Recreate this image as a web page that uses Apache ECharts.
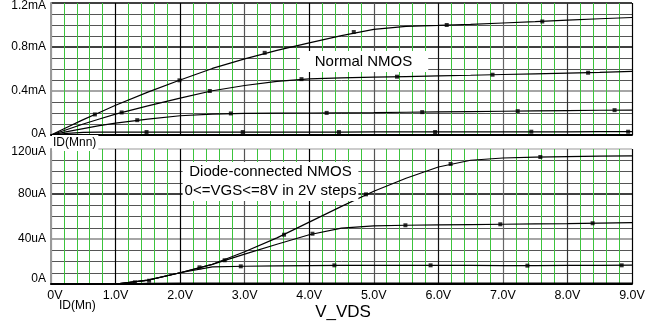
<!DOCTYPE html>
<html><head><meta charset="utf-8">
<script src="https://cdn.jsdelivr.net/npm/echarts@6/dist/echarts.min.js"></script>
<style>html,body{margin:0;padding:0;background:#fff}#c{width:661px;height:328px}</style>
</head><body><div id="c"></div>
<script>
// ---- data ----
const vds = [0,0.25,0.5,0.75,1,1.5,2,2.5,3,3.5,4,4.5,5,5.5,6,6.5,7,7.5,8,8.5,9];
// Normal NMOS, ID in mA, VGS = 8,6,4,2 V
const topVgs8 = [0,0.07,0.14,0.205,0.27,0.39,0.50,0.605,0.692,0.77,0.838,0.903,0.96,0.988,0.996,1.006,1.018,1.03,1.045,1.057,1.068];
const topVgs6 = [0,0.05,0.1,0.145,0.19,0.265,0.335,0.402,0.45,0.488,0.51,0.52,0.526,0.531,0.537,0.543,0.55,0.556,0.562,0.569,0.578];
const topVgs4 = [0,0.03,0.058,0.085,0.108,0.145,0.175,0.19,0.197,0.199,0.2,0.202,0.204,0.207,0.21,0.213,0.216,0.219,0.222,0.225,0.227];
const topVgs2 = [0,0.015,0.024,0.027,0.027,0.027,0.027,0.027,0.027,0.027,0.027,0.027,0.028,0.028,0.028,0.028,0.029,0.029,0.029,0.03,0.03];
// Diode-connected NMOS, ID in uA
const botVgs8 = [0,0,0,0,0,3.5,10,17.5,28.7,41,55,69,82.5,94,104,110,112,112.7,113.2,113.6,113.9];
const botVgs6 = [0,0,0,0,0,3.5,10,17.5,26.5,35.3,43.8,49.6,51.6,52.2,52.5,52.8,53.1,53.4,53.7,54.1,54.5];
const botVgs4 = [0,0,0,0,0,3.3,10,15.3,15.8,16.1,16.3,16.5,16.6,16.6,16.6,16.5,16.4,16.4,16.5,16.6,16.7];
const botVgs2 = [0,0,0,0,0,0.5,0.8,0.8,0.8,0.8,0.8,0.8,0.8,0.8,0.8,0.8,0.8,0.8,0.8,0.8,0.8];
// trace markers [V, I]
const topMk8 = [[0.68,0.187],[1.99,0.497],[3.31,0.747],[4.69,0.936],[6.13,1.0],[7.61,1.032]];
const topMk6 = [[1.094,0.205],[2.46,0.40],[3.88,0.508],[5.36,0.53],[6.84,0.548],[8.32,0.566]];
const topMk4 = [[1.336,0.135],[2.786,0.196],[4.27,0.201],[5.75,0.208],[7.23,0.217],[8.73,0.226]];
const topMk2 = [[1.48,0.027],[2.97,0.027],[4.46,0.027],[5.95,0.027],[7.44,0.03],[8.94,0.03]];
const botMk8 = [[2.3,14.8],[3.61,43.8],[4.88,79.7],[6.19,106.7],[7.58,112.9]];
const botMk6 = [[1.3,1.5],[2.69,21.1],[4.05,44.7],[5.49,52.2],[6.96,53.1],[8.39,54.0]];
const botMk4 = [[1.52,2.9],[2.94,15.7],[4.39,16.6],[5.88,16.6],[7.38,16.3],[8.84,16.6]];
// tick labels
const xTickLabels = ['0V','1.0V','2.0V','3.0V','4.0V','5.0V','6.0V','7.0V','8.0V','9.0V'];
const topYLabels = ['0A','0.4mA','0.8mA','1.2mA'];
const botYLabels = ['0A','40uA','80uA','120uA'];

// ---- chart ----
const FONT = 'Liberation Sans, Arial, sans-serif';
const GREEN = '#3cc43c';
function pts(ys){ return vds.map((v,i)=>[v, ys[i]]); }
function lineSeries(ys, xi, yi){
  return {type:'line', xAxisIndex:xi, yAxisIndex:yi, data:pts(ys), showSymbol:false, smooth:false,
    lineStyle:{color:'#000', width:1.2}, silent:true, animation:false, z:5};
}
function markSeries(d, xi, yi){
  return {type:'scatter', xAxisIndex:xi, yAxisIndex:yi, data:d, symbol:'rect', symbolSize:4,
    itemStyle:{color:'#000'}, silent:true, animation:false, z:6};
}
function xAxis(gi, showLabels){
  return {type:'value', gridIndex:gi, min:0, max:9, interval:1,
    axisLine:{show:true, onZero:false, lineStyle:{color:'#000', width:2}},
    axisTick:{show:false},
    axisLabel:{show:showLabels, fontFamily:FONT, fontSize:12.5, color:'#000', margin:5,
      formatter:(v)=>{const i=Math.round(v); return i===0?'{z|'+xTickLabels[0]+'}':xTickLabels[i];},
      rich:{z:{fontFamily:FONT, fontSize:12.5, color:'#000', padding:[0,0,0,8]}}},
    splitLine:{show:true, lineStyle:{color:['#888','#000','#000','#555','#000','#555','#111','#666','#333','#000'], width:1.2}},
    minorTick:{show:false, splitNumber:5},
    minorSplitLine:{show:true, lineStyle:{color:GREEN, width:1}}
  };
}
function yAxis(gi, max, interval, labels, splitColors, topPad, zeroPad){
  return {type:'value', gridIndex:gi, min:0, max:max, interval:interval,
    axisLine:{show:true, lineStyle:{color:'#999', width:2}},
    axisTick:{show:false},
    axisLabel:{fontFamily:FONT, fontSize:12, color:'#000', margin:5,
      formatter:(v)=>{const i=Math.round(v/interval); const s=labels[i];
        if(i===labels.length-1) return '{t|'+s+'}';
        if(i===0) return '{b|'+s+'}';
        return s;},
      rich:{t:{fontFamily:FONT,fontSize:12,color:'#000',padding:[topPad,0,0,0]},
            b:{fontFamily:FONT,fontSize:12,color:'#000',padding:[0,0,zeroPad,0]}}},
    splitLine:{show:true, lineStyle:{color:splitColors, width:1.5}},
    minorTick:{show:false, splitNumber:4},
    minorSplitLine:{show:true, lineStyle:{color:'#555', width:1}}
  };
}
const chart = echarts.init(document.getElementById('c'), null, {renderer:'canvas'});
chart.setOption({
  animation:false,
  backgroundColor:'#fff',
  grid:[
    {left:51, top:2, width:581, height:133, containLabel:false},
    {left:51, top:149, width:581, height:135, containLabel:false}
  ],
  xAxis:[xAxis(0,false), xAxis(1,true)],
  yAxis:[
    yAxis(0, 1.2, 0.4, topYLabels, ['#000','#888','#000','#000'], 6, 2),
    yAxis(1, 120, 40, botYLabels, ['#000','#888','#000','#bbb'], 6, 11)
  ],
  series:[
    lineSeries(topVgs8,0,0), lineSeries(topVgs6,0,0), lineSeries(topVgs4,0,0), lineSeries(topVgs2,0,0),
    markSeries(topMk8,0,0), markSeries(topMk6,0,0), markSeries(topMk4,0,0), markSeries(topMk2,0,0),
    lineSeries(botVgs8,1,1), lineSeries(botVgs6,1,1), lineSeries(botVgs4,1,1), lineSeries(botVgs2,1,1),
    markSeries(botMk8,1,1), markSeries(botMk6,1,1), markSeries(botMk4,1,1)
  ],
  graphic:[
    {type:'text', x:364, y:61.5, z:100, silent:true,
      style:{text:'Normal NMOS', font:'15px '+FONT, fill:'#000', align:'center', verticalAlign:'middle',
        backgroundColor:'#fff', padding:[3,16,3,15]}},
    {type:'text', x:270.5, y:181.5, z:100, silent:true,
      style:{text:'Diode-connected NMOS\n0<=VGS<=8V in 2V steps', font:'15px '+FONT, lineHeight:19.5, fill:'#000',
        align:'center', verticalAlign:'middle', backgroundColor:'#fff', padding:[0,2,0,2]}},
    {type:'text', x:52, y:143, z:100, silent:true,
      style:{text:'ID(Mnn)', font:'12px '+FONT, fill:'#000', align:'left', verticalAlign:'middle',
        backgroundColor:'#fff', padding:[2,2,2,1]}},
    {type:'text', x:59, y:306, z:100, silent:true,
      style:{text:'ID(Mn)', font:'12px '+FONT, fill:'#000', align:'left', verticalAlign:'middle'}},
    {type:'text', x:343, y:312, z:100, silent:true,
      style:{text:'V_VDS', font:'17px '+FONT, fill:'#000', align:'center', verticalAlign:'middle'}}
  ]
});
</script></body></html>
